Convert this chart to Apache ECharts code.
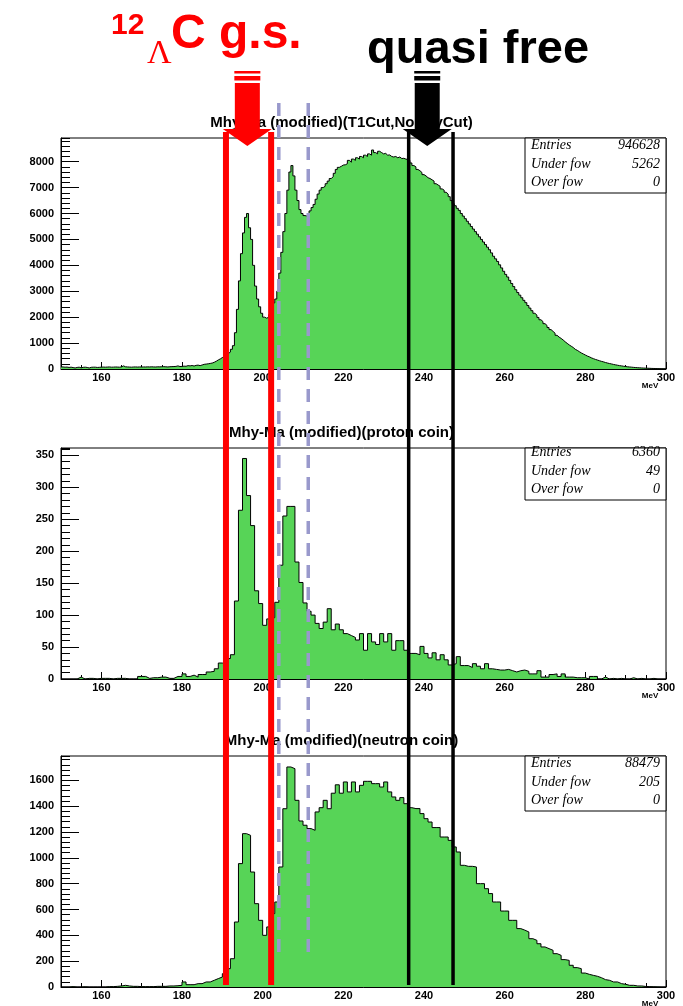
<!DOCTYPE html>
<html><head><meta charset="utf-8">
<script src="https://cdn.jsdelivr.net/npm/echarts@6/dist/echarts.min.js"></script>
<style>html,body{margin:0;padding:0;background:#fff}#c{width:683px;height:1006px}</style>
</head><body><div id="c"></div>
<script>
// ---------------- data ----------------
const xMin = 150, xMax = 300;
const xTickLabels = [160, 180, 200, 220, 240, 260, 280, 300];

// panel 1: Mhy-Ma (modified)(T1Cut,NoAnyCut), 0.5 MeV bins from 150
const allBinWidth = 0.5;
const allCounts = [
  80,70,75,60,70,55,40,60,70,45,
  65,70,60,40,65,70,70,60,65,70,
  75,70,75,80,70,72,78,75,70,80,
  120,85,80,75,70,78,80,75,80,75,
  80,78,82,80,85,80,78,85,82,88,
  90,85,80,88,92,95,100,120,95,100,
  110,105,130,120,135,115,140,150,130,155,
  180,190,200,215,230,260,300,350,390,440,
  490,540,600,650,760,900,1400,2300,3400,4450,
  5250,5850,6000,5450,5000,4000,3200,2700,2400,2150,
  2000,1960,2000,2100,2300,2550,2700,3000,3700,4500,
  5300,6000,6900,7600,7850,7450,6900,6500,6150,6000,
  5920,5900,5950,6100,6230,6350,6550,6750,6900,7000,
  7050,7150,7250,7350,7420,7550,7700,7780,7820,7870,
  7880,7920,8050,7980,8100,8050,8150,8100,8200,8150,
  8250,8200,8300,8250,8450,8350,8300,8400,8350,8300,
  8320,8250,8260,8200,8180,8200,8150,8180,8120,8130,
  8100,8080,8050,7950,7850,7800,7700,7650,7580,7500,
  7450,7380,7350,7300,7250,7150,7100,7050,6950,6900,
  6820,6750,6650,6500,6380,6300,6200,6120,6000,5900,
  5800,5700,5600,5500,5400,5300,5200,5100,5000,4900,
  4800,4700,4600,4480,4350,4250,4150,4020,3900,3770,
  3650,3550,3420,3300,3180,3060,2950,2850,2750,2650,
  2560,2450,2350,2250,2150,2080,1990,1900,1830,1750,
  1680,1600,1520,1450,1380,1300,1230,1180,1120,1050,
  990,930,880,830,760,720,670,620,580,540,
  500,470,430,400,370,345,320,295,275,250,
  230,210,195,175,160,145,130,120,105,95,
  85,78,70,62,55,50,45,40,36,32,
  30,26,22,20,18,15,13,11,10,8
];

// panel 2: proton coin, 1 MeV bins from 150
const protonBinWidth = 1;
const protonCounts = [
  0,0,0,0,3,0,1,1,0,1,
  1,1,0,1,1,1,0,0,0,4,
  4,1,2,2,3,3,1,1,4,4,
  8,4,6,3,7,7,11,12,16,25,
  23,32,38,122,264,345,287,240,138,118,
  84,94,96,120,178,255,270,270,183,151,
  119,106,100,87,79,89,110,77,86,77,
  71,68,65,61,71,45,71,58,54,71,
  58,71,45,60,60,45,40,40,38,51,
  40,33,41,30,38,30,22,24,35,21,
  21,18,24,20,16,24,16,15,14,14,
  15,13,11,13,14,12,8,8,13,3,
  3,7,8,4,8,3,3,2,2,2,
  0,4,4,0,3,0,1,0,1,0,
  0,2,0,1,0,0,1,0,0,0
];

// panel 3: neutron coin, 1 MeV bins from 150
const neutronBinWidth = 1;
const neutronCounts = [
  0,0,3,0,0,2,0,0,0,0,
  0,3,3,5,8,13,8,5,5,3,
  3,3,3,5,5,5,8,8,10,13,
  39,18,18,26,26,39,39,52,65,77,
  103,142,219,503,955,1187,1174,890,645,516,
  400,465,568,658,929,1380,1703,1690,1445,1285,
  1252,1226,1213,1355,1388,1445,1380,1500,1565,1500,
  1587,1510,1587,1510,1561,1592,1592,1574,1574,1548,
  1587,1510,1471,1445,1466,1419,1388,1381,1381,1342,
  1303,1277,1234,1234,1161,1161,1135,1084,1045,942,
  934,934,929,800,800,761,723,658,658,588,
  588,516,516,452,440,426,374,361,335,310,
  297,284,258,245,212,206,168,150,142,108,
  98,90,83,72,57,52,39,39,26,21,
  13,13,8,8,4,3,2,1,0,0
];

const panelTitles = [
  'Mhy-Ma (modified)(T1Cut,NoAnyCut)',
  'Mhy-Ma (modified)(proton coin)',
  'Mhy-Ma (modified)(neutron coin)'
];
const yAxisMax = [8913, 361.4, 1788];
const yLabelStep = [1000, 50, 200];
const statLabels = ['Entries', 'Under fow', 'Over fow'];
const statValues = [
  ['946628', '5262', '0'],
  ['6360', '49', '0'],
  ['88479', '205', '0']
];

// annotation positions in MeV
const gsCut = [190.9, 202.1];
const midCut = [204.0, 211.3];
const qfCut = [236.2, 247.2];
const gsArrowAt = 196.2;
const qfArrowAt = 240.8;

// ---------------- layout ----------------
const gridTops = [138, 448, 756];
const gridLeft = 61, gridWidth = 605, gridHeight = 231;
const statOffsets = [0, -3, 0];
const FONT = '"Liberation Sans", Arial, Helvetica, sans-serif';
const SERIF = '"Liberation Serif", "Times New Roman", serif';

const histSets = [
  [allCounts, allBinWidth],
  [protonCounts, protonBinWidth],
  [neutronCounts, neutronBinWidth]
];

function stepPoints(counts, w) {
  const pts = counts.map((v, i) => [xMin + i * w, v]);
  pts.push([xMax, counts[counts.length - 1]]);
  return pts;
}

const grids = [], xAxes = [], yAxes = [], series = [];
for (let p = 0; p < 3; p++) {
  grids.push({ left: gridLeft, top: gridTops[p], width: gridWidth, height: gridHeight,
    show: true, borderColor: '#000', borderWidth: 1, backgroundColor: 'transparent' });
  xAxes.push({ type: 'value', gridIndex: p, position: 'bottom', min: xMin, max: xMax,
    axisLine: { show: true, onZero: false, lineStyle: { color: '#000', width: 1 } },
    axisTick: { show: true, inside: true, length: 7, customValues: xTickLabels, lineStyle: { color: '#000' } },
    axisLabel: { show: true, customValues: xTickLabels, formatter: v => String(v), color: '#000', fontWeight: 'bold', fontSize: 11, fontFamily: FONT, margin: 3 },
    splitLine: { show: false } });
  xAxes.push({ type: 'value', gridIndex: p, position: 'bottom', min: xMin, max: xMax, interval: 5,
    axisLine: { show: false, onZero: false }, axisLabel: { show: false }, splitLine: { show: false },
    axisTick: { show: true, inside: true, length: 4, lineStyle: { color: '#000' } } });
  yAxes.push({ type: 'value', gridIndex: p, position: 'left', min: 0, max: yAxisMax[p], interval: yLabelStep[p],
    axisLine: { show: true, onZero: false, lineStyle: { color: '#000', width: 1 } },
    axisTick: { show: true, inside: true, length: 18, lineStyle: { color: '#000' } },
    axisLabel: { show: true, showMaxLabel: false, formatter: v => String(v), color: '#000', fontWeight: 'bold', fontSize: 11, fontFamily: FONT, margin: 7 },
    splitLine: { show: false } });
  yAxes.push({ type: 'value', gridIndex: p, position: 'left', min: 0, max: yAxisMax[p], interval: yLabelStep[p] / 5,
    axisLine: { show: false, onZero: false }, axisLabel: { show: false }, splitLine: { show: false },
    axisTick: { show: true, inside: true, length: 9, lineStyle: { color: '#000' } } });

  series.push({ type: 'line', xAxisIndex: p * 2, yAxisIndex: p * 2, step: 'end',
    data: stepPoints(histSets[p][0], histSets[p][1]), symbol: 'none', silent: true,
    lineStyle: { color: '#000', width: 1 }, areaStyle: { color: '#57d457', opacity: 1 }, z: 2 });
}

const chart = echarts.init(document.getElementById('c'), null, { renderer: 'canvas' });
chart.setOption({ animation: false, backgroundColor: '#fff', grid: grids, xAxis: xAxes, yAxis: yAxes, series: series });

// ---------------- overlays ----------------
const px = v => chart.convertToPixel({ xAxisIndex: 0 }, v);
const g = [];
for (let p = 0; p < 3; p++) {
  const top = gridTops[p];
  g.push({ type: 'text', z: 5, style: { text: panelTitles[p], x: 341.5, y: top - 15, align: 'center', verticalAlign: 'middle',
    font: 'bold 15px ' + FONT, fill: '#000' } });
  const bx = gridLeft + gridWidth - 141;
  g.push({ type: 'rect', z: 5, shape: { x: bx, y: top, width: 141, height: 55 + statOffsets[p] },
    style: { fill: '#fff', stroke: '#000', lineWidth: 1 } });
  const rowY = [7, 26, 44];
  for (let r = 0; r < 3; r++) {
    g.push({ type: 'text', z: 6, style: { text: statLabels[r], x: bx + 6, y: top + rowY[r] + statOffsets[p],
      verticalAlign: 'middle', font: 'italic 14px ' + SERIF, fill: '#000' } });
    g.push({ type: 'text', z: 6, style: { text: statValues[p][r], x: bx + 135, y: top + rowY[r] + statOffsets[p],
      align: 'right', verticalAlign: 'middle', font: 'italic 14px ' + SERIF, fill: '#000' } });
  }
  g.push({ type: 'text', z: 6, style: { text: 'MeV', x: 650, y: top + gridHeight + 17, align: 'center', verticalAlign: 'middle',
    font: 'bold 8px ' + FONT, fill: '#000' } });
}
gsCut.forEach(v => g.push({ type: 'line', z: 50, shape: { x1: px(v), y1: 132, x2: px(v), y2: 985 }, style: { stroke: '#ff0000', lineWidth: 6 } }));
midCut.forEach(v => g.push({ type: 'line', z: 50, shape: { x1: px(v), y1: 103, x2: px(v), y2: 955 }, style: { stroke: '#9999cc', lineWidth: 3.5, lineDash: [13, 9] } }));
qfCut.forEach(v => g.push({ type: 'line', z: 50, shape: { x1: px(v), y1: 132, x2: px(v), y2: 985 }, style: { stroke: '#000', lineWidth: 3.5 } }));

function arrow(cx, color) {
  const out = [];
  out.push({ type: 'rect', z: 60, shape: { x: cx - 13, y: 71, width: 26, height: 2.5 }, style: { fill: color } });
  out.push({ type: 'rect', z: 60, shape: { x: cx - 13, y: 76, width: 26, height: 4.5 }, style: { fill: color } });
  out.push({ type: 'polygon', z: 60, shape: { points: [
    [cx - 12.5, 83], [cx + 12.5, 83], [cx + 12.5, 129], [cx + 24.5, 129], [cx, 146], [cx - 24.5, 129], [cx - 12.5, 129]
  ] }, style: { fill: color } });
  return out;
}
g.push(...arrow(px(gsArrowAt), '#ff0000'));
g.push(...arrow(px(qfArrowAt), '#000'));

g.push({ type: 'text', z: 70, style: { text: '12', x: 111, y: 25.5, verticalAlign: 'middle', font: 'bold 30px ' + FONT, fill: '#ff0000' } });
g.push({ type: 'text', z: 70, style: { text: 'Λ', x: 147, y: 54, verticalAlign: 'middle', font: '34px ' + SERIF, fill: '#ff0000' } });
g.push({ type: 'text', z: 70, style: { text: 'C g.s.', x: 171, y: 35, verticalAlign: 'middle', font: 'bold 48px ' + FONT, fill: '#ff0000' } });
g.push({ type: 'text', z: 70, style: { text: 'quasi free', x: 367, y: 50, verticalAlign: 'middle', font: 'bold 47px ' + FONT, fill: '#000' } });

chart.setOption({ graphic: { elements: g } });
</script>
</body></html>
